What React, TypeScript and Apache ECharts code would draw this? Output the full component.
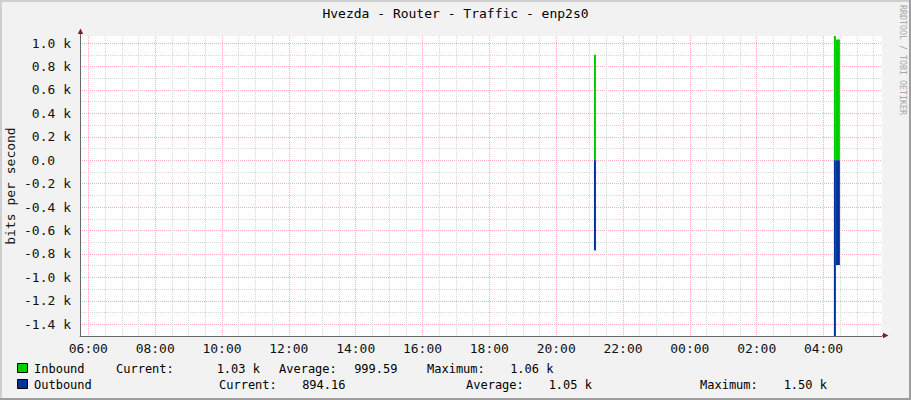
import React, { useEffect, useRef } from 'react';
import * as echarts from 'echarts';

// ---- texts ----
const chartTitle = 'Hvezda - Router - Traffic - enp2s0';
const yAxisName = 'bits per second';
const watermark = 'RRDTOOL / TOBI OETIKER';

// ---- time window (hours since 00:00 of the first day) ----
const timeStartHour = 5.75;
const timeEndHour = 29.75;
const xTickStepHours = 2;

// ---- value range (bits per second) ----
const yMin = -1500;
const yMax = 1060;
const yTickStep = 200;

// ---- samples (start hour, end hour, value) ----
const sampleStartHours = [21.13, 28.31, 28.37];
const sampleEndHours = [21.19, 28.37, 28.49];
const inboundBps = [900, 1060, 1030];
const outboundBps = [-770, -1500, -894];

// ---- legend ----
const seriesNames = ['Inbound', 'Outbound'];
const currentLabels = ['1.03 k', '894.16'];
const averageLabels = ['999.59', '1.05 k'];
const maximumLabels = ['1.06 k', '1.50 k'];

const GREEN = '#00cc00';
const BLUE = '#003399';
const MONO = '"DejaVu Sans Mono", monospace';
const MAJOR = '#f5b0b0';
const MINOR = '#d8d8d8';
const AXIS = '#666666';
const ARROW = '#801f1f';

function pad2(n: number) {
  return String(n).padStart(2, '0');
}

function makeSeries(name: string, values: number[], color: string) {
  return {
    type: 'custom',
    name,
    data: sampleStartHours.map((s, i) => [s, sampleEndHours[i], values[i]]),
    encode: { x: [0, 1], y: 2 },
    renderItem: (params: any, api: any) => {
      const p0 = api.coord([api.value(0), api.value(2)]);
      const p1 = api.coord([api.value(1), 0]);
      return {
        type: 'rect',
        shape: {
          x: Math.min(p0[0], p1[0]),
          y: Math.min(p0[1], p1[1]),
          width: Math.abs(p1[0] - p0[0]),
          height: Math.abs(p1[1] - p0[1]),
        },
        style: { fill: color },
      };
    },
  };
}

function legendText(text: string, x: number, y: number, align: string) {
  return {
    type: 'text',
    x,
    y,
    z: 10,
    style: { text, fill: '#000', font: `12px ${MONO}`, align, verticalAlign: 'middle' },
  };
}

export default function App() {
  const ref = useRef<HTMLDivElement>(null);
  useEffect(() => {
    const chart = echarts.init(ref.current!, null, { renderer: 'svg' });
    const row1 = 368.5;
    const row2 = 384.8;
    const option: any = {
      animation: false,
      backgroundColor: '#f2f2f2',
      grid: {
        left: 80,
        top: 36,
        width: 802,
        height: 300,
        show: true,
        backgroundColor: '#ffffff',
        borderWidth: 0,
        containLabel: false,
        outerBoundsMode: 'none',
      },
      xAxis: {
        type: 'value',
        min: timeStartHour,
        max: timeEndHour,
        splitNumber: 12,
        minInterval: xTickStepHours,
        maxInterval: xTickStepHours,
        axisLine: { show: true, onZero: false, lineStyle: { color: AXIS, width: 1 } },
        axisTick: { show: false },
        axisLabel: {
          show: true,
          showMinLabel: false,
          showMaxLabel: false,
          margin: 6,
          color: '#111',
          fontFamily: MONO,
          fontSize: 13,
          formatter: (v: number) => pad2(((Math.round(v) % 24) + 24) % 24) + ':00',
        },
        splitLine: {
          show: true,
          showMinLine: false,
          showMaxLine: false,
          lineStyle: { color: MAJOR, width: 1, type: [1, 1] },
        },
        minorTick: { show: false, splitNumber: 4 },
        minorSplitLine: { show: true, lineStyle: { color: MINOR, width: 1, type: [1, 1] } },
      },
      yAxis: {
        type: 'value',
        min: yMin,
        max: yMax,
        splitNumber: 13,
        minInterval: yTickStep,
        maxInterval: yTickStep,
        axisLine: { show: true, onZero: false, lineStyle: { color: AXIS, width: 1 } },
        axisTick: { show: false },
        axisLabel: {
          show: true,
          showMinLabel: false,
          showMaxLabel: false,
          margin: 9,
          color: '#111',
          fontFamily: MONO,
          fontSize: 13,
          formatter: (v: number) => (v === 0 ? '{z|0.0}' : (v / 1000).toFixed(1) + ' k'),
          rich: { z: { padding: [0, 16, 0, 0], fontFamily: MONO, fontSize: 13, color: '#111' } },
        },
        splitLine: {
          show: true,
          showMinLine: false,
          showMaxLine: false,
          lineStyle: { color: MAJOR, width: 1, type: [1, 1] },
        },
        minorTick: { show: false, splitNumber: 2 },
        minorSplitLine: { show: true, lineStyle: { color: MINOR, width: 1, type: [1, 1] } },
      },
      series: [makeSeries(seriesNames[0], inboundBps, GREEN), makeSeries(seriesNames[1], outboundBps, BLUE)],
      graphic: [
        {
          type: 'text',
          x: 455.5,
          y: 13.8,
          style: { text: chartTitle, fill: '#000', font: `13px ${MONO}`, align: 'center', verticalAlign: 'middle' },
        },
        {
          type: 'text',
          x: 10.5,
          y: 186,
          rotation: Math.PI / 2,
          style: { text: yAxisName, fill: '#111', font: `13px ${MONO}`, align: 'center', verticalAlign: 'middle' },
        },
        {
          type: 'text',
          x: 903,
          y: 60,
          rotation: -Math.PI / 2,
          style: { text: watermark, fill: '#a8a8a8', font: `8.3px ${MONO}`, align: 'center', verticalAlign: 'middle' },
        },
        { type: 'line', z: 5, shape: { x1: 80.5, y1: 36, x2: 80.5, y2: 31 }, style: { stroke: AXIS, lineWidth: 1 } },
        { type: 'polygon', z: 5, shape: { points: [[77.8, 34], [83.2, 34], [80.5, 28.5]] }, style: { fill: ARROW } },
        { type: 'line', z: 5, shape: { x1: 882, y1: 335.5, x2: 885, y2: 335.5 }, style: { stroke: AXIS, lineWidth: 1 } },
        { type: 'polygon', z: 5, shape: { points: [[883, 332.8], [883, 338.3], [888.5, 335.5]] }, style: { fill: ARROW } },
        { type: 'rect', z: 10, shape: { x: 17.5, y: 363.5, width: 10, height: 9 }, style: { fill: GREEN, stroke: '#000', lineWidth: 1 } },
        { type: 'rect', z: 10, shape: { x: 17.5, y: 379.5, width: 10, height: 9 }, style: { fill: BLUE, stroke: '#000', lineWidth: 1 } },
        legendText(seriesNames[0], 34, row1, 'left'),
        legendText('Current:', 116, row1, 'left'),
        legendText(currentLabels[0], 260, row1, 'right'),
        legendText('Average:', 279, row1, 'left'),
        legendText(averageLabels[0], 397.5, row1, 'right'),
        legendText('Maximum:', 427, row1, 'left'),
        legendText(maximumLabels[0], 553.5, row1, 'right'),
        legendText(seriesNames[1], 34, row2, 'left'),
        legendText('Current:', 219, row2, 'left'),
        legendText(currentLabels[1], 345.5, row2, 'right'),
        legendText('Average:', 466, row2, 'left'),
        legendText(averageLabels[1], 592, row2, 'right'),
        legendText('Maximum:', 700, row2, 'left'),
        legendText(maximumLabels[1], 827, row2, 'right'),
        { type: 'rect', z: 20, shape: { x: 0, y: 0, width: 911, height: 2 }, style: { fill: '#cfcfcf' } },
        { type: 'rect', z: 20, shape: { x: 0, y: 0, width: 2, height: 400 }, style: { fill: '#cfcfcf' } },
        { type: 'rect', z: 20, shape: { x: 0, y: 398, width: 911, height: 2 }, style: { fill: '#9e9e9e' } },
        { type: 'rect', z: 20, shape: { x: 909, y: 0, width: 2, height: 400 }, style: { fill: '#9e9e9e' } },
      ],
    };
    chart.setOption(option);
    return () => chart.dispose();
  }, []);
  return <div ref={ref} style={{ position: 'fixed', left: 0, top: 0, width: 911, height: 400 }} />;
}
